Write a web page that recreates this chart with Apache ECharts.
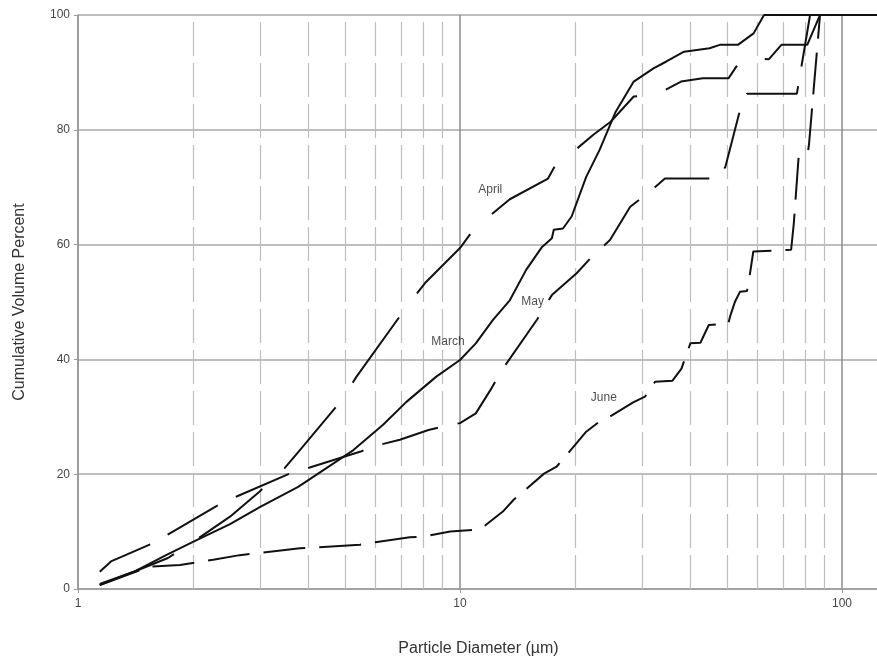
<!DOCTYPE html>
<html>
<head>
<meta charset="utf-8">
<script src="https://cdn.jsdelivr.net/npm/echarts@6/dist/echarts.min.js"></script>
<style>
  html, body { margin: 0; padding: 0; background: #fff; }
  #chart { width: 877px; height: 662px; }
</style>
</head>
<body>
<div id="chart"></div>
<script>
// values: [diameter um, cumulative volume %]
var march = [[1.14, 0.7], [1.4, 3.0], [1.7, 5.9], [2.0, 8.2], [2.5, 11.3], [3.0, 14.3], [3.77, 17.8],
    [4.5, 21.2], [5.26, 24.2], [6.29, 28.6], [7.24, 32.6], [8.67, 37.0], [10.0, 39.9], [11.0, 42.8],
    [12.2, 46.9], [13.5, 50.3], [14.9, 55.6], [16.4, 59.6], [17.4, 61.1], [17.6, 62.6], [18.6, 62.8],
    [19.6, 64.9], [21.4, 71.8], [23.2, 76.5], [25.5, 83.0], [28.5, 88.4], [32.1, 90.7], [34.7, 91.9],
    [38.6, 93.6], [45.0, 94.2], [47.9, 94.8], [53.4, 94.8], [58.7, 96.8], [62.5, 100], [125, 100]];

var april = [[1.14, 0.9], [1.4, 3.0], [1.72, 5.4], [2.0, 8.2], [2.5, 12.6], [2.99, 17.0], [3.47, 21.0],
    [3.81, 24.2], [4.9, 32.9], [5.36, 37.0], [7.24, 49.1], [8.1, 53.3], [10.0, 59.4], [10.6, 61.7],
    [11.0, 62.3], [11.6, 64.3], [13.5, 67.9], [17.0, 71.5], [17.9, 74.2], [19.4, 75.7], [22.3, 79.1],
    [24.8, 81.4], [28.5, 85.8], [32.8, 86.2], [37.9, 88.4], [43.2, 89.0], [50.5, 89.0], [52.9, 91.0],
    [56.4, 92.4], [64.4, 92.3], [69.4, 94.8], [81.1, 94.8], [87.6, 100], [125, 100]];

var may = [[1.14, 3.0], [1.22, 4.8], [1.55, 7.8], [1.74, 9.7], [2.37, 14.9], [2.62, 16.2], [3.58, 20.1],
    [3.97, 21.0], [5.47, 23.9], [6.06, 25.0], [6.96, 26.0], [8.27, 27.7], [9.0, 28.3], [10.0, 28.9],
    [11.0, 30.6], [12.1, 35.0], [12.8, 37.9], [15.9, 46.9], [17.4, 51.2], [20.2, 55.0], [22.3, 58.1],
    [24.7, 60.8], [27.9, 66.6], [31.5, 69.3], [34.4, 71.5], [47.0, 71.5], [49.5, 73.5], [54.2, 83.7],
    [56.4, 86.3], [76.2, 86.3], [82.5, 100], [125, 100]];

var june = [[1.14, 0.7], [1.54, 3.9], [1.85, 4.2], [2.26, 5.1], [2.65, 5.9], [3.81, 7.1], [5.47, 7.7],
    [6.06, 8.2], [7.39, 9.0], [8.0, 9.1], [9.43, 10.0], [11.3, 10.4], [13.0, 13.6], [13.8, 15.5],
    [16.6, 20.1], [17.9, 21.3], [21.4, 27.4], [23.1, 29.1], [24.2, 29.7], [28.4, 32.5], [30.5, 33.5],
    [32.4, 36.1], [36.0, 36.3], [38.0, 38.4], [40.1, 42.8], [42.6, 42.9], [44.8, 46.0], [50.4, 46.2],
    [50.9, 47.4], [52.5, 50.1], [54.1, 51.8], [56.4, 51.9], [57.0, 53.5], [58.6, 58.8], [73.6, 59.1],
    [74.8, 63.7], [77.0, 75.3], [81.4, 75.9], [82.0, 77.6], [87.6, 100], [125, 100]];

var xTicks = [1, 10, 100];
var minorX = [2, 3, 4, 5, 6, 7, 8, 9, 20, 30, 40, 50, 60, 70, 80, 90];

// where the month names sit, in data units
var labelNames = ['April', 'March', 'May', 'June'];
var labelPos = [[12.0, 69.5], [9.3, 43.0], [15.5, 50.0], [23.8, 33.3]];

var chart = echarts.init(document.getElementById('chart'));

function monthLine(name, data, dash) {
    return {
        name: name,
        type: 'line',
        data: data,
        z: 5,
        symbol: 'none',
        silent: true,
        clip: true,
        lineStyle: { color: '#111', width: 2, type: dash }
    };
}

var option = {
    animation: false,
    // grid runs a little past the right edge so the end tick line is cut off
    grid: { left: 78, top: 15, right: -2, bottom: 73, containLabel: false, outerBoundsMode: 'none' },
    xAxis: {
        type: 'log',
        logBase: 10,
        min: 1,
        max: 125,
        name: 'Particle Diameter (\u00b5m)',
        nameLocation: 'middle',
        nameGap: 52,
        nameTextStyle: { fontSize: 16, color: '#333', fontFamily: 'Liberation Sans' },
        axisLine: { lineStyle: { color: '#999', width: 1.5 } },
        axisTick: { show: true, length: 4, lineStyle: { color: '#999' } },
        axisLabel: {
            fontSize: 12,
            color: '#444',
            margin: 9,
            fontFamily: 'Liberation Sans',
            formatter: function (v) {
                for (var i = 0; i < xTicks.length; i++) {
                    if (Math.abs(v - xTicks[i]) < 1e-6 * xTicks[i]) return String(xTicks[i]);
                }
                return '';
            }
        },
        splitLine: { show: true, lineStyle: { color: '#8c8c8c', width: 1.5 } }
    },
    yAxis: {
        type: 'value',
        min: 0,
        max: 100,
        interval: 20,
        name: 'Cumulative Volume Percent',
        nameLocation: 'middle',
        nameGap: 50,
        nameTextStyle: { fontSize: 16, color: '#333', fontFamily: 'Liberation Sans' },
        axisLine: { show: true, lineStyle: { color: '#999', width: 1.5 } },
        axisTick: { show: true, length: 4, lineStyle: { color: '#999' } },
        axisLabel: { fontSize: 12, color: '#444', margin: 8, fontFamily: 'Liberation Sans' },
        splitLine: { show: true, lineStyle: { color: '#a8a8a8', width: 1.5 } }
    },
    series: [
        {
            name: 'minor',
            type: 'line',
            data: [],
            z: 1,
            silent: true,
            markLine: {
                silent: true,
                symbol: ['none', 'none'],
                label: { show: false },
                lineStyle: { color: '#bdbdbd', width: 1.2, type: [34, 7] },
                data: minorX.map(function (v) { return { xAxis: v }; })
            }
        },
        monthLine('March', march, 'solid'),
        monthLine('April', april, [80, 30]),
        monthLine('May', may, [58, 20]),
        monthLine('June', june, [42, 14]),
        {
            name: 'labels',
            type: 'scatter',
            z: 6,
            silent: true,
            symbolSize: 0,
            data: labelPos.map(function (p, i) { return { name: labelNames[i], value: p }; }),
            label: {
                show: true,
                position: 'inside',
                formatter: '{b}',
                fontSize: 12,
                color: '#222',
                fontFamily: 'Liberation Sans'
            }
        }
    ]
};

chart.setOption(option);
</script>
</body>
</html>
